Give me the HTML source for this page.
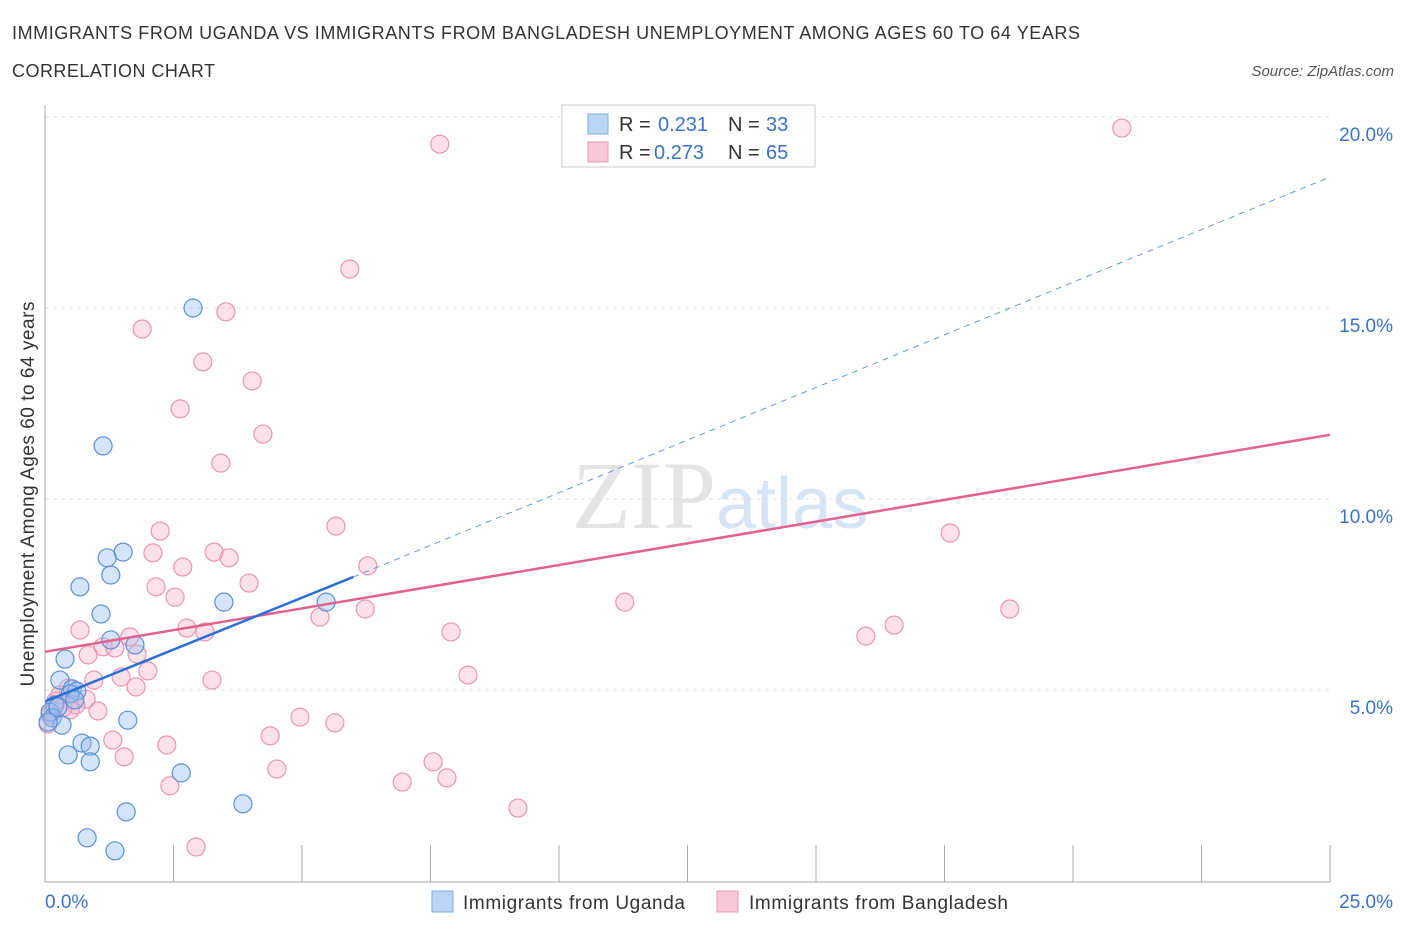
<!DOCTYPE html>
<html><head><meta charset="utf-8"><style>
body{margin:0;background:#fff;font-family:"Liberation Sans",sans-serif;}
</style></head><body>
<svg id="c" width="1406" height="930" xmlns="http://www.w3.org/2000/svg" style="font-family:'Liberation Sans',sans-serif">
<text x="12" y="39" font-size="18" fill="#333" textLength="1068">IMMIGRANTS FROM UGANDA VS IMMIGRANTS FROM BANGLADESH UNEMPLOYMENT AMONG AGES 60 TO 64 YEARS</text>
<text x="12" y="77" font-size="18" fill="#333" textLength="203">CORRELATION CHART</text>
<text x="1394" y="76" font-size="15" fill="#555" font-style="italic" text-anchor="end">Source: ZipAtlas.com</text>
<text x="716" y="528" font-size="96" fill="#e4e4e4" text-anchor="end" font-family="Liberation Serif">ZIP</text>
<text x="716" y="528" font-size="72" fill="#d6e4f5">atlas</text>
<g id="grid"></g><g id="pts"></g><g id="lines"></g>
<line x1="45" y1="105" x2="45" y2="882" stroke="#aaa"/>
<line x1="45" y1="882" x2="1330" y2="882" stroke="#aaa"/>
<text x="45" y="908" font-size="19" fill="#3a73c8">0.0%</text>
<text x="1393" y="908" font-size="19" fill="#3a73c8" text-anchor="end">25.0%</text>
<text transform="translate(34,494) rotate(-90)" font-size="19" fill="#333" text-anchor="middle" textLength="385">Unemployment Among Ages 60 to 64 years</text>
<g>
<rect x="562" y="105" width="253" height="62" fill="#fff" stroke="#ccc"/>
<rect x="588" y="114" width="20" height="20" fill="#bcd4f5" stroke="#7fa8e0"/>
<text x="619" y="131" font-size="20" fill="#333">R =</text><text x="658" y="131" font-size="20" fill="#3a73c8">0.231</text>
<text x="728" y="131" font-size="20" fill="#333">N =</text><text x="766" y="131" font-size="20" fill="#3a73c8">33</text>
<rect x="588" y="142" width="20" height="20" fill="#f9c8d6" stroke="#e89ab2"/>
<text x="619" y="159" font-size="20" fill="#333">R =</text><text x="654" y="159" font-size="20" fill="#3a73c8">0.273</text>
<text x="728" y="159" font-size="20" fill="#333">N =</text><text x="766" y="159" font-size="20" fill="#3a73c8">65</text>
</g>
<g>
<rect x="432" y="891" width="21" height="21" fill="#bcd4f5" stroke="#7fa8e0"/>
<text x="463" y="909" font-size="19" fill="#333" textLength="222">Immigrants from Uganda</text>
<rect x="717" y="891" width="21" height="21" fill="#f9c8d6" stroke="#e89ab2"/>
<text x="749" y="909" font-size="19" fill="#333" textLength="259">Immigrants from Bangladesh</text>
</g>
</svg>
<script>
const yTicks=[5,10,15,20];
const yTickLabels=["5.0%","10.0%","15.0%","20.0%"];
const ugandaX=[2.88,1.13,1.52,1.21,1.28,0.68,3.48,5.47,1.09,1.28,1.75,0.39,0.29,0.53,0.62,0.49,0.19,0.1,0.14,0.33,0.06,1.61,0.72,0.88,0.45,0.88,2.65,3.85,1.58,0.82,1.36,0.25,0.58];
const ugandaY=[15.0,11.39,8.61,8.46,8.01,7.7,7.3,7.3,6.99,6.31,6.18,5.81,5.26,5.03,4.97,4.9,4.61,4.42,4.27,4.08,4.16,4.21,3.61,3.53,3.3,3.12,2.83,2.02,1.81,1.13,0.79,4.55,4.74];
const bangX=[7.68,20.95,5.93,1.89,3.52,3.07,4.03,2.63,4.24,3.42,5.66,2.24,17.61,2.1,3.29,3.58,6.28,2.68,3.97,2.16,2.53,11.28,6.23,18.77,5.35,2.76,16.52,0.68,7.9,3.11,15.97,1.65,1.13,1.36,0.84,1.79,2.0,8.23,1.48,0.95,3.25,1.77,0.45,0.8,0.6,0.21,0.35,1.03,4.96,5.64,4.38,1.32,2.37,1.54,7.55,4.51,7.82,6.95,2.43,9.2,2.94,0.1,0.06,0.29,0.49];
const bangY=[19.29,19.71,16.02,14.45,14.9,13.59,13.09,12.36,11.7,10.94,9.29,9.16,9.11,8.59,8.61,8.46,8.25,8.22,7.8,7.7,7.43,7.3,7.12,7.12,6.91,6.62,6.7,6.57,6.52,6.52,6.41,6.39,6.13,6.1,5.92,5.94,5.5,5.39,5.34,5.26,5.26,5.08,5.05,4.76,4.61,4.71,4.53,4.45,4.29,4.14,3.8,3.69,3.56,3.25,3.12,2.93,2.7,2.59,2.49,1.91,0.89,4.35,4.11,4.87,4.48];
const ugandaTrend=[4.7,7.96,18.43];
const bangTrend=[6.0,11.68];
const NS="http://www.w3.org/2000/svg";
const X=v=>45+v*51.4, Y=v=>881-v*38.2;
function mk(t,a,p){const e=document.createElementNS(NS,t);for(const k in a)e.setAttribute(k,a[k]);document.getElementById(p).appendChild(e);return e;}
yTicks.forEach((t,i)=>{
 const l=mk('line',{x1:45,x2:1330,y1:Y(t),y2:Y(t),stroke:'#ddd','stroke-dasharray':'4,4'},'grid');
 
 
 const tx=mk('text',{x:1393,y:Y(t)+24,'font-size':19,fill:'#3a73c8','text-anchor':'end'},'grid');
 tx.textContent=yTickLabels[i];
 
 
});
for(let i=0;i<=10;i++){
 const l=mk('line',{x1:X(i*2.5),x2:X(i*2.5),y1:845,y2:882,stroke:'#aaa'},'grid');
 
 
}
bangX.forEach((x,i)=>{
 const c=mk('circle',{cx:X(x),cy:Y(bangY[i]),r:9,fill:'rgba(246,170,195,0.35)',stroke:'#eb94b0','stroke-width':1.2},'pts');
 
 
});
ugandaX.forEach((x,i)=>{
 const c=mk('circle',{cx:X(x),cy:Y(ugandaY[i]),r:9,fill:'rgba(150,190,240,0.4)',stroke:'#5b8fdb','stroke-width':1.2},'pts');
 
 
});
let l=mk('line',{x1:X(6),y1:Y(ugandaTrend[1]),x2:X(25),y2:Y(ugandaTrend[2]),stroke:'#6a97d8','stroke-dasharray':'6,5','stroke-width':1},'lines');


l=mk('line',{x1:X(0),y1:Y(bangTrend[0]),x2:X(25),y2:Y(bangTrend[1]),stroke:'#e2618e','stroke-width':2.5},'lines');


l=mk('line',{x1:X(0),y1:Y(ugandaTrend[0]),x2:X(6),y2:Y(ugandaTrend[1]),stroke:'#2a6fd6','stroke-width':2.5},'lines');


</script>
</body></html>
